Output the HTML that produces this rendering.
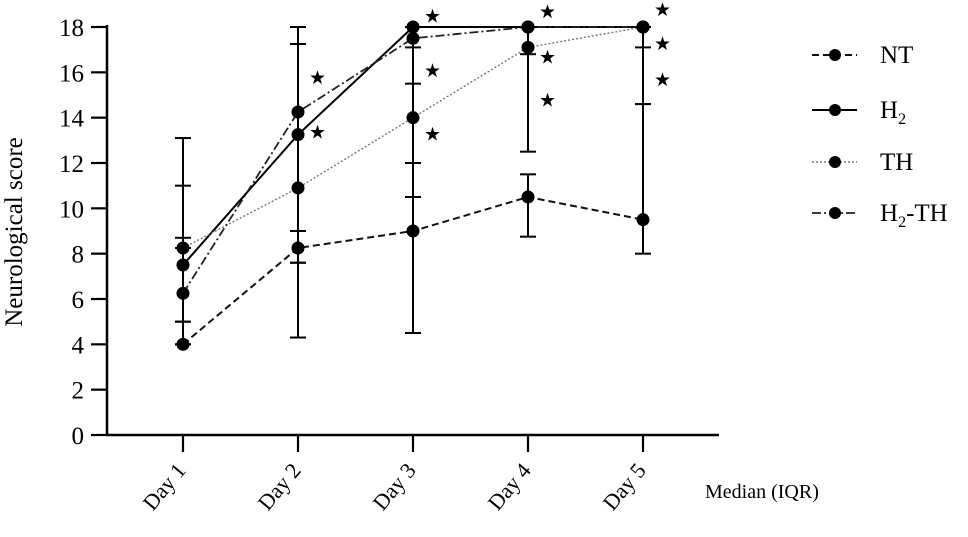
<!DOCTYPE html>
<html><head><meta charset="utf-8"><style>
html,body{margin:0;padding:0;background:#fff;}
svg{display:block;font-family:"Liberation Serif",serif;}
</style></head><body>
<svg id="chart" width="968" height="537" viewBox="0 0 968 537">
<g id="axes"></g>
<g id="series"></g>
<g id="legend"></g>
<text x="22" y="232" font-size="25" text-anchor="middle" transform="rotate(-90 22 232)">Neurological score</text>
<text x="705" y="498" font-size="20">Median (IQR)</text>
</svg>
<script>
const categories = ["Day 1","Day 2","Day 3","Day 4","Day 5"];
const yTicks = [0,2,4,6,8,10,12,14,16,18];
const seriesNames = ["NT","H2","TH","H2-TH"];
const ntMedian = [4,8.25,9,10.5,9.5];
const ntLow = [4,4.3,4.5,8.75,8];
const ntHigh = [5,9,10.5,11.5,14.6];
const h2Median = [7.5,13.25,18,18,18];
const h2Low = [5,7.6,12,18,18];
const h2High = [11,18,18,18,18];
const thMedian = [8.25,10.9,14,17.1,18];
const thLow = [8.25,7.6,10.5,12.5,14.6];
const thHigh = [13.1,17.25,17.1,18,18];
const h2thMedian = [6.25,14.25,17.5,18,18];
const h2thLow = [4,9,15.5,16.8,17.1];
const h2thHigh = [8.7,18,18,18,18];
const starDays = [1,1,2,2,2,3,3,3,4,4,4];
const starValues = [15.8,13.4,18.5,16.1,13.3,18.7,16.7,14.8,18.8,17.3,15.7];

const NS="http://www.w3.org/2000/svg";
const X0=107, X1=719, Y0=435, Y1=27;
const xPos=i=>183+i*115;
const yPos=v=>Y0-(v/18)*(Y0-Y1);
function mk(tag,attrs,parent){const e=document.createElementNS(NS,tag);for(const k in attrs)e.setAttribute(k,attrs[k]);parent.appendChild(e);return e;}
const axes=document.getElementById('axes');
let e=mk('line',{x1:X0,y1:Y1-2,x2:X0,y2:Y0+1,stroke:'#000','stroke-width':2.5},axes);


e=mk('line',{x1:X0-1,y1:Y0,x2:X1,y2:Y0,stroke:'#000','stroke-width':2.5},axes);


yTicks.forEach(v=>{
  const t=mk('line',{x1:X0-16,x2:X0,y1:yPos(v),y2:yPos(v),stroke:'#000','stroke-width':2.2},axes);
  
  
  const l=mk('text',{x:X0-23,y:yPos(v)+9,'font-size':25,'text-anchor':'end'},axes);
  l.textContent=v;
  
  
});
categories.forEach((c,i)=>{
  const t=mk('line',{x1:xPos(i),x2:xPos(i),y1:Y0,y2:Y0+17,stroke:'#000','stroke-width':2.2},axes);
  
  
  const l=mk('text',{x:xPos(i)+4,y:Y0+36,'font-size':22,'text-anchor':'end',transform:`rotate(-50 ${xPos(i)+4} ${Y0+36})`},axes);
  l.textContent=c;
  
  
});
const styles={NT:{dash:'7,4',w:2,c:'#111'},H2:{dash:'',w:2,c:'#000'},TH:{dash:'2,2',w:1.4,c:'#777'},'H2-TH':{dash:'9,3,2,3',w:1.8,c:'#222'}};
const data={NT:[ntMedian,ntLow,ntHigh],H2:[h2Median,h2Low,h2High],TH:[thMedian,thLow,thHigh],'H2-TH':[h2thMedian,h2thLow,h2thHigh]};
const sg=document.getElementById('series');
seriesNames.forEach(n=>{
  const [m,lo,hi]=data[n];const s=styles[n];
  const g=mk('g',{},sg);
  
  
  m.forEach((v,i)=>{
    const b=mk('line',{x1:xPos(i),x2:xPos(i),y1:yPos(lo[i]),y2:yPos(hi[i]),stroke:'#000','stroke-width':2},g);
    
    
    [lo[i],hi[i]].forEach(c=>{
      const cp=mk('line',{x1:xPos(i)-8,x2:xPos(i)+8,y1:yPos(c),y2:yPos(c),stroke:'#000','stroke-width':2},g);
      
      
    });
  });
  const p=mk('polyline',{points:m.map((v,i)=>xPos(i)+','+yPos(v)).join(' '),fill:'none',stroke:s.c,'stroke-width':s.w,'stroke-dasharray':s.dash},g);
  
  
  m.forEach((v,i)=>{
    const c=mk('circle',{cx:xPos(i),cy:yPos(v),r:6.5,fill:'#000'},g);
    
    
  });
});
starDays.forEach((d,k)=>{
  const t=mk('text',{x:xPos(d)+11,y:yPos(starValues[k])+7,'font-size':19,'font-family':'DejaVu Sans, sans-serif'},sg);
  t.textContent='★';
  
  
});
const lg=document.getElementById('legend');
const labels=['NT','H<tspan font-size="16" dy="6">2</tspan>','TH','H<tspan font-size="16" dy="6">2</tspan><tspan dy="-6">-TH</tspan>'];
seriesNames.forEach((n,i)=>{
  const y=[55,110,162,213][i];const s=styles[n];
  const g=mk('g',{},lg);
  
  
  mk('line',{x1:812,x2:857,y1:y,y2:y,stroke:s.c,'stroke-width':s.w,'stroke-dasharray':s.dash},g);
  mk('circle',{cx:835,cy:y,r:6,fill:'#000'},g);
  const t=mk('text',{x:880,y:y+8,'font-size':25},g);
  t.innerHTML=labels[i];
});
</script>
</body></html>
